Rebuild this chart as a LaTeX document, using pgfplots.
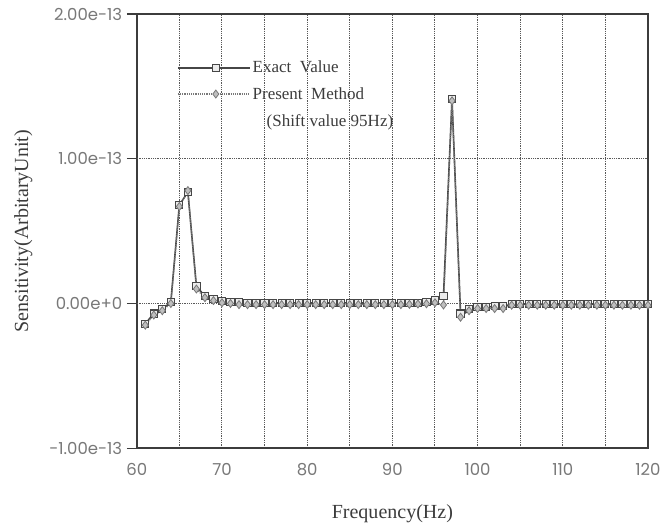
\documentclass[border=0pt]{standalone}
\usepackage{pgfplots}
\pgfplotsset{compat=1.18}
\usetikzlibrary{calc}
\usepackage{fontspec}
\setmainfont{Liberation Serif}
\newfontfamily\tickfont{Poppins}
\definecolor{axgray}{RGB}{60,60,60}
\definecolor{ticktxt}{RGB}{120,120,120}
\definecolor{exactc}{RGB}{70,70,70}
\definecolor{presc}{RGB}{120,120,120}

\pgfplotstableread{
f v
61 -0.14
62 -0.07
63 -0.04
64 0.01
65 0.68
66 0.77
67 0.12
68 0.05
69 0.03
70 0.015
71 0.01
72 0.008
73 0.006
74 0.005
75 0.004
76 0.004
77 0.004
78 0.004
79 0.004
80 0.004
81 0.004
82 0.004
83 0.004
84 0.004
85 0.004
86 0.004
87 0.004
88 0.004
89 0.004
90 0.004
91 0.004
92 0.005
93 0.006
94 0.01
95 0.02
96 0.05
97 1.41
98 -0.07
99 -0.04
100 -0.025
101 -0.025
102 -0.02
103 -0.02
104 -0.005
105 -0.005
106 -0.005
107 -0.005
108 -0.005
109 -0.005
110 -0.005
111 -0.005
112 -0.005
113 -0.005
114 -0.005
115 -0.005
116 -0.005
117 -0.005
118 -0.005
119 -0.005
120 -0.005
}\exact

\pgfplotstableread{
f v
61 -0.15
62 -0.08
63 -0.05
64 0.0
65 0.67
66 0.78
67 0.10
68 0.04
69 0.02
70 0.005
71 0.0
72 -0.008
73 -0.008
74 -0.008
75 -0.008
76 -0.008
77 -0.008
78 -0.008
79 -0.008
80 -0.008
81 -0.008
82 -0.008
83 -0.008
84 -0.008
85 -0.008
86 -0.008
87 -0.008
88 -0.008
89 -0.008
90 -0.008
91 -0.008
92 -0.006
93 -0.004
94 -0.002
95 0.005
96 -0.01
97 1.40
98 -0.095
99 -0.05
100 -0.035
101 -0.035
102 -0.035
103 -0.035
104 -0.012
105 -0.012
106 -0.012
107 -0.012
108 -0.012
109 -0.012
110 -0.012
111 -0.012
112 -0.012
113 -0.012
114 -0.012
115 -0.012
116 -0.012
117 -0.012
118 -0.012
119 -0.012
120 -0.012
}\present

\begin{document}
\begin{tikzpicture}[x=1pt,y=1pt]
\begin{axis}[
  name=ax,
  scale only axis,
  width=511pt, height=434pt,
  xmin=60, xmax=120, ymin=-1, ymax=2,
  axis line style={axgray, line width=1.8pt},
  xtick={60,70,...,120},
  minor xtick={65,75,...,115},
  major tick length=10pt, minor tick length=0pt,
  xtick style={draw=none},
  xmajorgrids, xminorgrids,
  grid style={black!65, dash pattern=on 1pt off 0.8pt, line width=1pt},
  ytick={-1,0,1,2},
  yticklabels={-1.00e-13,0.00e+0,1.00e-13,2.00e-13},
  ytick style={axgray, line width=1.4pt},
  tick align=outside,
  xtick pos=bottom, ytick pos=left,
  extra y ticks={0,1},
  extra y tick labels={},
  extra y tick style={grid=major, major tick length=0pt},
  ticklabel style={font=\tickfont\fontsize{16.5}{19}\selectfont, text=ticktxt},
  /pgf/number format/assume math mode=true,
  xticklabel style={yshift=-2pt},
  yticklabel style={xshift=-1pt},
  xlabel={Frequency(Hz)},
  ylabel={Sensitivity(ArbitaryUnit)},
  label style={font=\fontsize{20}{24}\selectfont, text=axgray},
  xlabel style={yshift=-22pt},
  ylabel style={yshift=0pt},
  legend style={at={(axis cs:64.7,1.69)}, anchor=north west, draw=none, fill=none,
    inner sep=0pt,
    font=\fontsize{17}{27}\selectfont, text=axgray, row sep=9pt,
    cells={align=left}},
  legend cell align=left,
  legend image code/.code={
    \draw[#1, mark repeat=2, mark phase=2] plot coordinates {(0pt,0pt) (38pt,0pt) (72pt,0pt)};
  },
]
\addplot[exactc, line width=1.6pt, mark=square*, mark size=3.6pt,
  mark options={solid, fill=gray!15, draw=exactc, line width=1pt}]
  table[x=f, y=v] {\exact};
\addlegendentry{Exact\ \ Value}
\addplot[presc, densely dotted, line width=1.2pt, mark=diamond*, mark size=4pt,
  mark options={solid, fill=gray!50, draw=presc, line width=0.8pt},
  legend image post style={yshift=13.5pt}]
  table[x=f, y=v] {\present};
\addlegendentry{Present\ \ Method\\\hspace*{14pt}(Shift value 95Hz)}
\end{axis}
\path[use as bounding box] ($(ax.south west)+(-136.7pt,-82pt)$) rectangle ($(ax.north east)+(18pt,14pt)$);
\end{tikzpicture}
\end{document}
